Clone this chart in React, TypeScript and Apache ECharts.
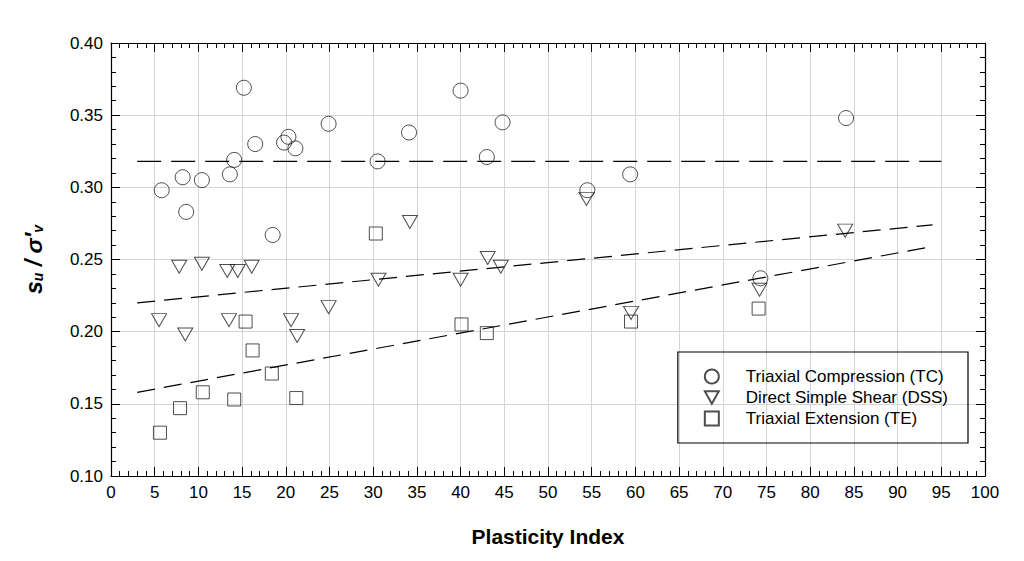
import { useEffect, useRef } from 'react';
import * as echarts from 'echarts';

const tcPoints = [
  [5.8, 0.298], [8.2, 0.307], [8.6, 0.283], [10.4, 0.305], [13.6, 0.309], [14.1, 0.319],
  [15.2, 0.369], [16.5, 0.33], [18.5, 0.267], [19.8, 0.331], [20.3, 0.335], [21.1, 0.327],
  [24.9, 0.344], [30.5, 0.318], [34.1, 0.338], [40.0, 0.367], [43.0, 0.321], [44.8, 0.345],
  [54.5, 0.298], [59.4, 0.309], [74.3, 0.237], [84.1, 0.348],
];
const dssPoints = [
  [5.5, 0.208], [7.8, 0.245], [8.5, 0.198], [10.4, 0.247], [13.3, 0.242], [13.5, 0.208],
  [14.5, 0.242], [16.1, 0.245], [20.6, 0.208], [21.3, 0.197], [24.9, 0.217], [30.6, 0.236],
  [34.2, 0.276], [40.0, 0.236], [43.1, 0.251], [44.6, 0.245], [54.4, 0.292], [59.5, 0.213],
  [74.2, 0.229], [84.0, 0.27],
];
const tePoints = [
  [5.6, 0.13], [7.9, 0.147], [10.5, 0.158], [14.1, 0.153], [15.4, 0.207], [16.2, 0.187],
  [18.4, 0.171], [21.2, 0.154], [30.3, 0.268], [40.1, 0.205], [43.0, 0.199], [59.5, 0.207],
  [74.1, 0.216],
];
const tcTrend = [[3, 0.318], [95, 0.318]];
const dssTrend = [[3, 0.22], [94, 0.274]];
const teTrend = [[3, 0.158], [94, 0.259]];

const triangle = 'path://M0,0 L10,0 L5,9 Z';

export default function App() {
  const ref = useRef<HTMLDivElement>(null);

  useEffect(() => {
    if (!ref.current) return;
    const chart = echarts.init(ref.current, null, { renderer: 'svg' });
    const font = 'Arial, "Liberation Sans", sans-serif';
    const baseAxis = {
      axisLine: { show: true, onZero: false, lineStyle: { color: '#000', width: 1.2 } },
      axisTick: { show: true, inside: true, length: 9, lineStyle: { color: '#000' } },
      minorTick: { show: true, splitNumber: 5, length: 5, lineStyle: { color: '#000' } },
    };
    const trend = (data: number[][], dash: number[]) => ({
      type: 'line',
      data,
      showSymbol: false,
      silent: true,
      lineStyle: { color: '#000', width: 1.2, type: dash },
    });
    const marker = (name: string, data: number[][], symbol: string, size: any) => ({
      name,
      type: 'scatter',
      data,
      symbol,
      symbolSize: size,
      itemStyle: { color: 'rgba(255,255,255,0)', borderColor: '#222', borderWidth: 1 },
    });
    chart.setOption({
      animation: false,
      backgroundColor: '#fff',
      textStyle: { fontFamily: font },
      grid: { left: 103, right: 31, top: 35, bottom: 77 },
      legend: {
        right: 48,
        top: 344,
        orient: 'vertical',
        itemGap: 4,
        itemWidth: 14,
        itemHeight: 14,
        padding: [16, 20, 16, 26],
        borderColor: '#000',
        borderWidth: 1.2,
        textStyle: { fontSize: 17, color: '#000', padding: [0, 0, 0, 22] },
        data: ['Triaxial Compression (TC)', 'Direct Simple Shear (DSS)', 'Triaxial Extension (TE)'],
      },
      xAxis: [
        {
          ...baseAxis,
          type: 'value', min: 0, max: 100, interval: 5,
          axisLabel: { fontSize: 17, color: '#000', margin: 8 },
          splitLine: { show: true, lineStyle: { color: '#d4d4d4' } },
          name: 'Plasticity Index', nameLocation: 'middle', nameGap: 50,
          nameTextStyle: { fontSize: 21, fontWeight: 'bold', color: '#000' },
        },
        {
          ...baseAxis, position: 'top',
          type: 'value', min: 0, max: 100, interval: 5,
          axisLabel: { show: false }, splitLine: { show: false },
        },
      ],
      yAxis: [
        {
          ...baseAxis,
          type: 'value', min: 0.1, max: 0.4, interval: 0.05,
          axisLabel: { fontSize: 17, color: '#000', formatter: (v: number) => v.toFixed(2) },
          splitLine: { show: true, lineStyle: { color: '#d4d4d4' } },
          name: '{a|s}{s|u}{a| / σ\u2032}{s|v}', nameLocation: 'middle', nameGap: 66,
          nameTextStyle: {
            rich: {
              a: { fontSize: 23, fontWeight: 'bold', fontStyle: 'italic', color: '#000' },
              s: { fontSize: 14, fontWeight: 'bold', fontStyle: 'italic', color: '#000', verticalAlign: 'bottom', padding: [8, 0, 0, 0] },
            },
          },
        },
        {
          ...baseAxis, position: 'right',
          type: 'value', min: 0.1, max: 0.4, interval: 0.05,
          axisLabel: { show: false }, splitLine: { show: false },
        },
      ],
      series: [
        trend(tcTrend, [24, 10]),
        trend(dssTrend, [18, 9]),
        trend(teTrend, [18, 9]),
        marker('Triaxial Compression (TC)', tcPoints, 'circle', 15),
        marker('Direct Simple Shear (DSS)', dssPoints, triangle, [15, 13]),
        marker('Triaxial Extension (TE)', tePoints, 'rect', 13),
      ],
    });
    return () => chart.dispose();
  }, []);

  return <div ref={ref} style={{ width: 1008, height: 545 }} />;
}
